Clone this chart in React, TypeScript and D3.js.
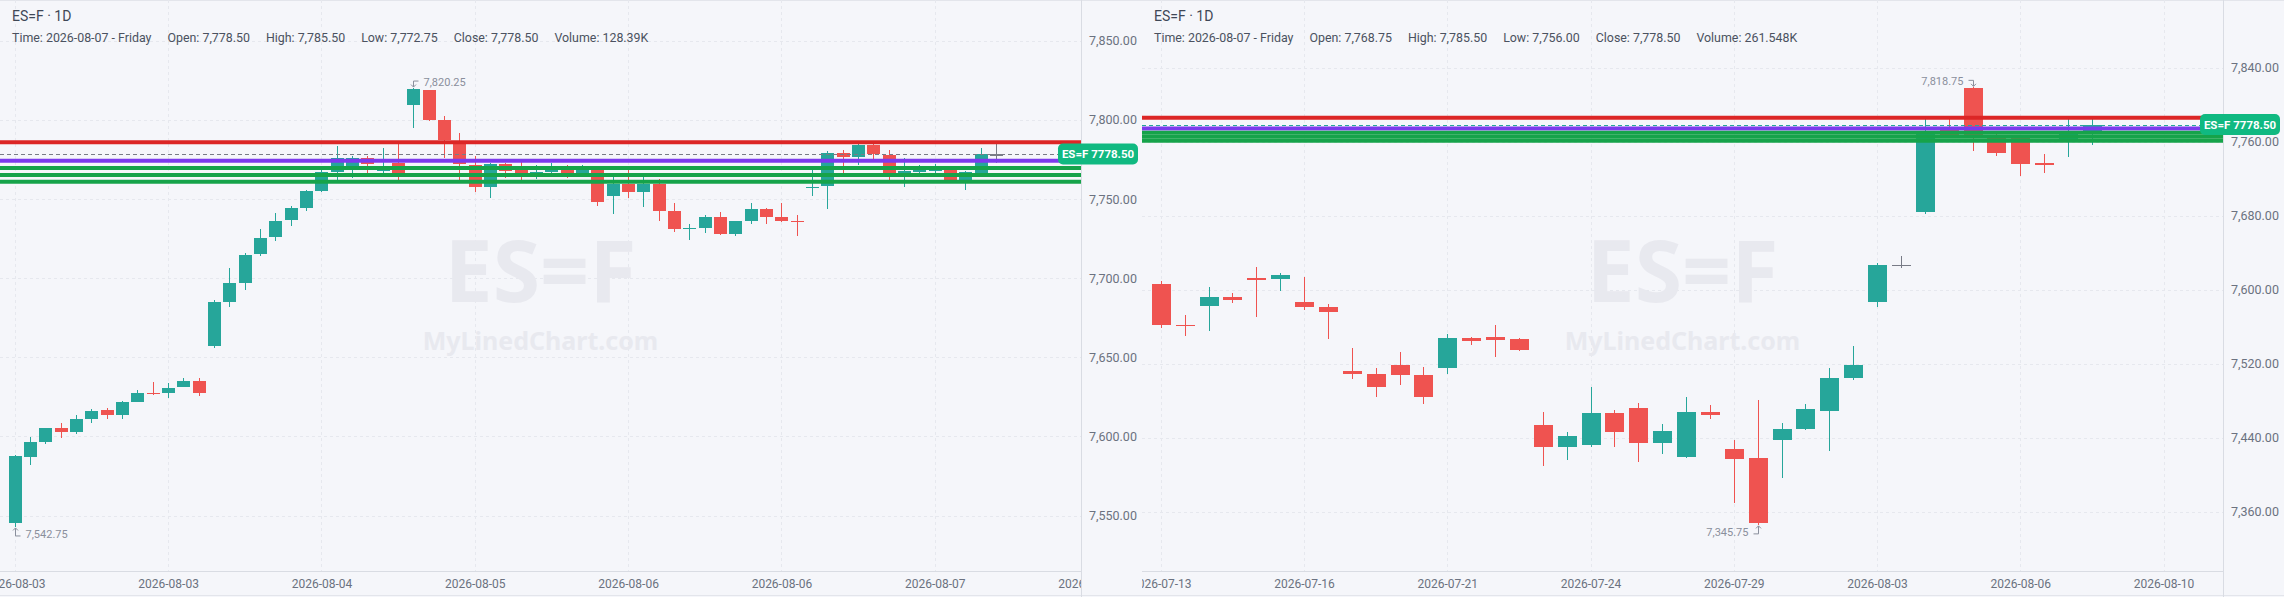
import React from 'react';
import * as d3 from 'd3';

// [open, high, low, close]
type Bar = [number, number, number, number];

const leftBars: Bar[] = [
  [7545.5, 7588, 7542.75, 7587.75],
  [7587, 7599.75, 7582, 7596.5],
  [7596.75, 7605.5, 7595, 7605.5],
  [7605.5, 7608.5, 7599.25, 7603],
  [7602.5, 7613.75, 7601.75, 7611],
  [7611.25, 7617.5, 7608.75, 7616.25],
  [7616.75, 7617.75, 7611.25, 7613.25],
  [7613.75, 7622.5, 7610.75, 7622],
  [7622, 7629.5, 7621.5, 7627.5],
  [7627.5, 7634.5, 7626, 7627],
  [7627.25, 7634, 7624.5, 7630.75],
  [7631, 7637, 7631, 7635.25],
  [7635.25, 7636.75, 7625.25, 7627.5],
  [7657, 7686, 7655.75, 7685.25],
  [7684.75, 7706.25, 7682, 7696.75],
  [7697, 7716.25, 7692.5, 7715],
  [7715.25, 7731, 7714, 7725.75],
  [7726, 7741, 7723.5, 7736.5],
  [7736.75, 7745.5, 7733, 7744.25],
  [7744.25, 7756, 7742.5, 7755],
  [7755, 7768.75, 7754.5, 7767],
  [7767, 7783.5, 7762, 7775.75],
  [7770, 7777, 7763.5, 7776],
  [7776, 7777.25, 7766.25, 7772],
  [7768, 7782.5, 7766, 7771],
  [7773, 7785.25, 7762, 7766.25],
  [7809.5, 7820.25, 7795, 7819.5],
  [7819, 7819, 7799.5, 7800],
  [7800, 7802.5, 7776, 7787.25],
  [7787, 7792, 7762, 7772],
  [7771.5, 7777, 7754.5, 7758],
  [7757.75, 7773, 7750.75, 7772],
  [7772, 7773, 7763.5, 7768],
  [7770, 7773.5, 7762, 7766.5],
  [7766, 7771.5, 7763, 7767],
  [7767, 7773, 7766, 7769.25],
  [7769, 7771.5, 7763.5, 7766.5],
  [7766.5, 7771.5, 7766, 7769.25],
  [7768.75, 7770.75, 7745.5, 7748.25],
  [7751.75, 7764, 7740.5, 7759.5],
  [7759.5, 7768.25, 7750.75, 7754.5],
  [7754.5, 7764, 7745, 7759.5],
  [7759.75, 7762.5, 7736, 7742.5],
  [7742.25, 7747.5, 7729.25, 7731],
  [7731.5, 7734.5, 7724, 7732],
  [7732, 7740, 7728.5, 7739],
  [7739, 7741.75, 7727.5, 7728],
  [7728, 7736, 7726.5, 7736],
  [7736, 7747.5, 7734, 7743.5],
  [7743.5, 7744.25, 7734, 7739],
  [7739, 7747.5, 7735.25, 7736.5],
  [7736.5, 7739.75, 7727, 7735.5],
  [7757, 7768.25, 7751.75, 7758],
  [7758.25, 7780.25, 7743.5, 7779.5],
  [7779, 7781, 7766.5, 7776.75],
  [7776.75, 7784.75, 7771.5, 7784],
  [7784, 7785.25, 7775.25, 7778.25],
  [7777.75, 7781, 7761.5, 7766.5],
  [7766.5, 7776.25, 7757.75, 7767.5],
  [7767, 7771.5, 7766, 7768.75],
  [7768, 7772, 7766, 7769],
  [7770, 7771, 7762, 7762],
  [7762, 7768, 7755.5, 7767],
  [7766.25, 7782.5, 7766, 7778.5],
  [7778.5, 7785.5, 7772.75, 7778.5],
];

const rightBars: Bar[] = [
  [7606.25, 7609.5, 7559, 7562.25],
  [7562.25, 7572.5, 7550, 7561.25],
  [7582.75, 7603, 7555.75, 7592],
  [7592, 7596.5, 7586, 7589.25],
  [7612.5, 7624.5, 7570.75, 7611.5],
  [7611.5, 7618, 7599, 7616],
  [7586.75, 7613.75, 7578.5, 7581.5],
  [7581.25, 7584.75, 7547, 7576.25],
  [7512, 7537.25, 7503.75, 7509.25],
  [7509, 7515.75, 7484.25, 7495],
  [7518.5, 7532.5, 7497.25, 7508],
  [7507.75, 7516.75, 7476.75, 7484.25],
  [7515.75, 7552, 7509.25, 7547.75],
  [7547.75, 7549.25, 7540.5, 7545],
  [7549, 7561.75, 7527.5, 7546],
  [7546.75, 7548, 7534, 7535],
  [7453.75, 7468, 7409.5, 7430.25],
  [7430.25, 7446.5, 7416.25, 7441.75],
  [7432.5, 7495, 7430.25, 7466.75],
  [7466.75, 7470, 7430.25, 7446.5],
  [7472, 7477.5, 7414, 7434.5],
  [7434.5, 7454.75, 7422.75, 7447.25],
  [7419.5, 7484, 7418.5, 7467.75],
  [7467.75, 7475.25, 7460.5, 7465],
  [7427.75, 7437.5, 7369.75, 7417.25],
  [7418, 7480.75, 7345.75, 7348],
  [7437.75, 7456, 7396.75, 7449.5],
  [7449.5, 7476.5, 7448.25, 7471],
  [7469.25, 7515.25, 7426, 7504.5],
  [7505, 7539, 7502.75, 7518.5],
  [7587, 7629, 7581.5, 7626.75],
  [7626.75, 7636.5, 7623.75, 7626.75],
  [7684.25, 7784.25, 7682.25, 7772],
  [7773, 7785.25, 7765, 7766.5],
  [7818.5, 7818.75, 7750.25, 7766.25],
  [7766, 7768, 7745, 7748],
  [7765, 7766, 7723.25, 7736],
  [7736.5, 7746.75, 7726.5, 7736],
  [7763, 7784.25, 7743, 7770],
  [7768.75, 7785.5, 7756, 7778.5],
];

const leftTimeLabels = ['2026-08-03', '2026-08-03', '2026-08-04', '2026-08-05', '2026-08-06', '2026-08-06', '2026-08-07', '2026-08-10'];
const rightTimeLabels = ['2026-07-13', '2026-07-16', '2026-07-21', '2026-07-24', '2026-07-29', '2026-08-03', '2026-08-06', '2026-08-10'];

const leftPriceTicks = [7550, 7600, 7650, 7700, 7750, 7800, 7850];
const rightPriceTicks = [7360, 7440, 7520, 7600, 7680, 7760, 7840];

// horizontal level lines: resistance, pivot, supports
const levelPrices = [7786, 7774.25, 7769.75, 7765.25, 7761];

const symbol = 'ES=F';
const interval = '1D';
const lastTime = '2026-08-07 - Friday';
const leftVolume = '128.39K';
const rightVolume = '261.548K';

// colors
const BG = '#f5f6fa';
const UP = '#26a69a';
const DOWN = '#ef5350';
const FLAT = '#787b86';
const GRID = '#e6e8ee';
const TEXT = '#6b7280';
const LEVEL_COLORS = ['#dc2626', '#7c3aed', '#16a34a', '#16a34a', '#16a34a'];
const TAG = '#10b981';
const FONT = "Roboto, 'Noto Sans', sans-serif";

const W = 2284;
const H = 597;
const PLOT_W = 1081;
const AXIS_Y = 571;

const fmt = d3.format(',.2f');

interface PanelProps {
  id: string;
  x0: number;
  bars: Bar[];
  timeLabels: string[];
  labelStep: number;
  priceTicks: number[];
  yRange: [number, number];
  firstX: number;
  spacing: number;
  bodyW: number;
  volume: string;
}

function barColor(b: Bar) {
  if (b[3] > b[0]) return UP;
  if (b[3] < b[0]) return DOWN;
  return FLAT;
}

function Panel({ id, x0, bars, timeLabels, labelStep, priceTicks, yRange, firstX, spacing, bodyW, volume }: PanelProps) {
  const right = x0 + PLOT_W;
  const x = d3.scaleLinear().domain([0, 1]).range([x0 + firstX, x0 + firstX + spacing]);
  const y = d3.scaleLinear()
    .domain([priceTicks[0], priceTicks[priceTicks.length - 1]])
    .range(yRange);

  const last = bars[bars.length - 1];
  const lastColor = barColor(last);
  const half = (bodyW - 1) / 2;

  const maxIdx = d3.maxIndex(bars, d => d[1]);
  const minIdx = d3.minIndex(bars, d => d[2]);
  const mid = x0 + PLOT_W / 2;

  // extreme markers (bent arrows)
  const hiX = Math.floor(x(maxIdx)) + 0.5;
  const hiY = y(bars[maxIdx][1]);
  const hiDir = hiX > mid ? -1 : 1;
  const hiPath = d3.path();
  hiPath.moveTo(hiX + 5 * hiDir, hiY - 7);
  hiPath.lineTo(hiX, hiY - 7);
  hiPath.lineTo(hiX, hiY - 1);
  hiPath.moveTo(hiX - 2.5, hiY - 3.5);
  hiPath.lineTo(hiX, hiY - 1);
  hiPath.lineTo(hiX + 2.5, hiY - 3.5);

  const loX = Math.floor(x(minIdx)) + 0.5;
  const loY = y(bars[minIdx][2]);
  const loDir = loX > mid ? -1 : 1;
  const loPath = d3.path();
  loPath.moveTo(loX + 5 * loDir, loY + 9);
  loPath.lineTo(loX, loY + 9);
  loPath.lineTo(loX, loY + 1);
  loPath.moveTo(loX - 2.5, loY + 3.5);
  loPath.lineTo(loX, loY + 1);
  loPath.lineTo(loX + 2.5, loY + 3.5);

  const infoItems = [
    `Time: ${lastTime}`,
    `Open: ${fmt(last[0])}`,
    `High: ${fmt(last[1])}`,
    `Low: ${fmt(last[2])}`,
    `Close: ${fmt(last[3])}`,
    `Volume: ${volume}`,
  ];

  const closeY = y(last[3]);

  return (
    <g>
      <defs>
        <clipPath id={`plot-${id}`}>
          <rect x={x0} y={0} width={PLOT_W} height={AXIS_Y} />
        </clipPath>
        <clipPath id={`time-${id}`}>
          <rect x={x0} y={AXIS_Y} width={PLOT_W} height={H - AXIS_Y} />
        </clipPath>
      </defs>

      {/* grid */}
      <g clipPath={`url(#plot-${id})`}>
        {priceTicks.map(t => (
          <line key={`h${t}`} x1={x0} x2={right} y1={Math.round(y(t)) + 0.5} y2={Math.round(y(t)) + 0.5}
            stroke={GRID} strokeDasharray="3 3" />
        ))}
        {timeLabels.map((_, k) => (
          <line key={`v${k}`} x1={Math.floor(x(k * labelStep)) + 0.5} x2={Math.floor(x(k * labelStep)) + 0.5}
            y1={0} y2={AXIS_Y} stroke={GRID} strokeDasharray="3 3" />
        ))}
      </g>

      {/* watermark */}
      <text x={mid} y={302} textAnchor="middle" fontFamily="'Noto Sans', sans-serif" fontWeight={700}
        fontSize={86} fill="#e8e9ef">{symbol}</text>
      <text x={mid} y={350} textAnchor="middle" fontFamily="'Noto Sans', sans-serif" fontWeight={700}
        fontSize={25} fill="#e8e9ef">MyLinedChart.com</text>

      {/* candles */}
      <g clipPath={`url(#plot-${id})`} shapeRendering="crispEdges">
        {bars.map((b, i) => {
          const cx = Math.floor(x(i));
          const c = barColor(b);
          const top = y(Math.max(b[0], b[3]));
          const bot = y(Math.min(b[0], b[3]));
          return (
            <g key={i}>
              <rect x={cx} y={y(b[1])} width={1} height={Math.max(1, y(b[2]) - y(b[1]))} fill={c} />
              <rect x={cx - half} y={top} width={bodyW} height={Math.max(1.5, bot - top)} fill={c} />
            </g>
          );
        })}
      </g>

      {/* level lines */}
      {levelPrices.map((p, i) => (
        <line key={`l${i}`} x1={x0} x2={right} y1={y(p)} y2={y(p)} stroke={LEVEL_COLORS[i]} strokeWidth={4} />
      ))}

      {/* last price line */}
      <line x1={x0} x2={right} y1={Math.round(closeY) + 0.5} y2={Math.round(closeY) + 0.5}
        stroke={lastColor} strokeDasharray="4 3" />

      {/* extremes */}
      <path d={hiPath.toString()} fill="none" stroke="#8a8f9c" strokeWidth={1} />
      <text x={hiX + 10 * hiDir} y={hiY - 6} dy="0.35em" textAnchor={hiDir > 0 ? 'start' : 'end'}
        fontFamily={FONT} fontSize={11} fill="#8a8f9c">{fmt(bars[maxIdx][1])}</text>
      <path d={loPath.toString()} fill="none" stroke="#8a8f9c" strokeWidth={1} />
      <text x={loX + 10 * loDir} y={loY + 7} dy="0.35em" textAnchor={loDir > 0 ? 'start' : 'end'}
        fontFamily={FONT} fontSize={11} fill="#8a8f9c">{fmt(bars[minIdx][2])}</text>

      {/* axes borders */}
      <line x1={right + 0.5} x2={right + 0.5} y1={0} y2={H} stroke="#d9dce3" />
      <line x1={x0} x2={right} y1={AXIS_Y + 0.5} y2={AXIS_Y + 0.5} stroke="#d9dce3" />

      {/* price axis */}
      {priceTicks.map(t => (
        <text key={`p${t}`} x={right + 8} y={y(t)} dy="0.35em" fontFamily={FONT} fontSize={12.5} fill={TEXT}>
          {fmt(t)}
        </text>
      ))}

      {/* time axis */}
      <g clipPath={`url(#time-${id})`}>
        {timeLabels.map((lab, k) => (
          <text key={`t${k}`} x={x(k * labelStep)} y={584} dy="0.35em" textAnchor="middle"
            fontFamily={FONT} fontSize={12} fill={TEXT}>{lab}</text>
        ))}
      </g>

      {/* last price tag */}
      <rect x={right - 23} y={closeY - 10.5} width={80} height={21} rx={5} fill={TAG} />
      <text x={right + 17} y={closeY} dy="0.36em" textAnchor="middle" fontFamily={FONT} fontWeight={700}
        fontSize={11.5} fill="#fff">{`${symbol} ${last[3].toFixed(2)}`}</text>

      {/* header */}
      <text x={x0 + 12} y={21} fontFamily={FONT} fontSize={14} fill="#3f4756">{`${symbol} · ${interval}`}</text>
      <text x={x0 + 12} y={42} fontFamily={FONT} fontSize={12.4} fill="#4b5260">
        {infoItems.map((s, i) => (
          <tspan key={i} dx={i === 0 ? 0 : 16}>{s}</tspan>
        ))}
      </text>
    </g>
  );
}

export default function App() {
  return (
    <svg width={W} height={H} style={{ position: 'fixed', left: 0, top: 0, background: BG }}>
      <rect x={0} y={0} width={W} height={H} fill={BG} />
      <line x1={0} x2={W} y1={0.5} y2={0.5} stroke="#e3e5eb" />
      <line x1={0} x2={W} y1={H - 1.5} y2={H - 1.5} stroke="#e3e5eb" />
      <Panel id="left" x0={0} bars={leftBars} timeLabels={leftTimeLabels} labelStep={10}
        priceTicks={leftPriceTicks} yRange={[515.5, 41]} firstX={15.3} spacing={15.333}
        bodyW={13} volume={leftVolume} />
      <Panel id="right" x0={1142} bars={rightBars} timeLabels={rightTimeLabels} labelStep={6}
        priceTicks={rightPriceTicks} yRange={[511.7, 67.7]} firstX={19.3} spacing={23.875}
        bodyW={19} volume={rightVolume} />
    </svg>
  );
}
